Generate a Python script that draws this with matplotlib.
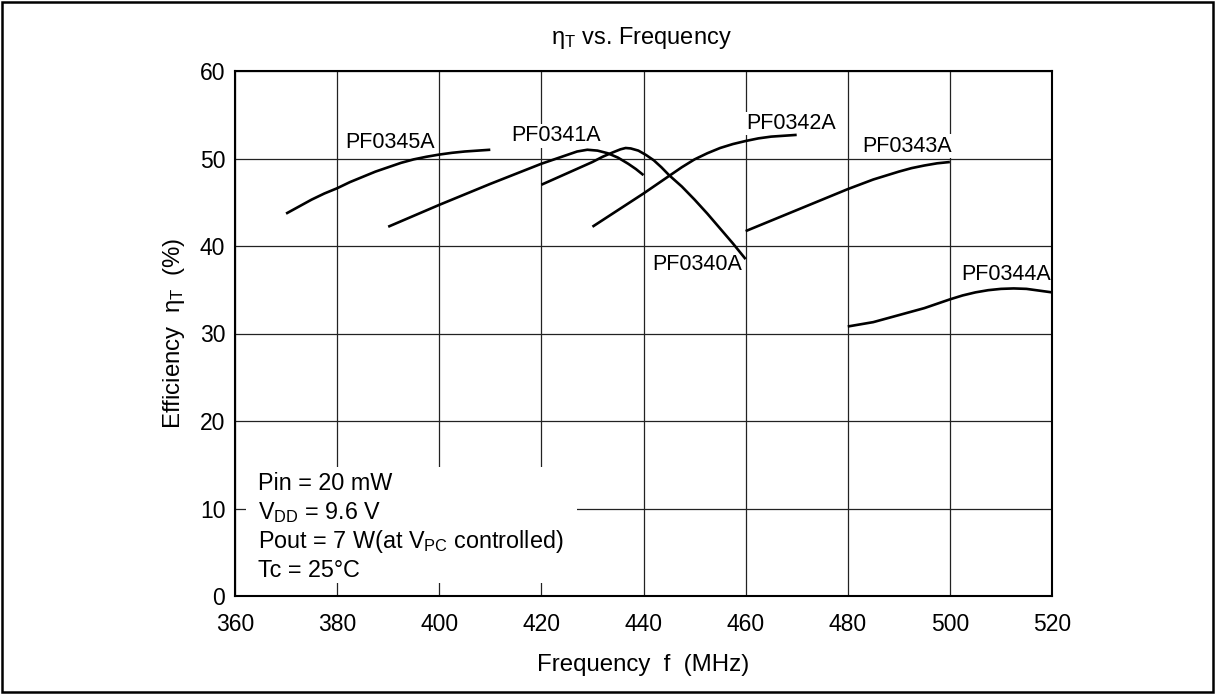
import matplotlib
matplotlib.use("Agg")
import matplotlib.pyplot as plt
from matplotlib.patches import Rectangle

plt.rcParams['font.family'] = ['Liberation Sans', 'DejaVu Sans']
plt.rcParams['mathtext.fontset'] = 'custom'
plt.rcParams['mathtext.rm'] = 'Liberation Sans'
plt.rcParams['mathtext.it'] = 'Liberation Sans'
plt.rcParams['mathtext.bf'] = 'Liberation Sans:bold'

# ---- data ----
pf0345a_f = [370, 372.5, 375, 377.5, 380, 382.5, 385, 387.5, 390, 392.5, 395,
             397.5, 400, 402.5, 405, 407.5, 410]
pf0345a_eff = [43.7, 44.5, 45.3, 46.0, 46.6, 47.3, 47.9, 48.5, 49.0, 49.5, 49.9,
               50.2, 50.45, 50.65, 50.8, 50.9, 51.0]

pf0341a_f = [390, 400, 410, 420, 422.5, 425, 427, 429, 431, 433, 435, 437, 438.5, 440]
pf0341a_eff = [42.2, 44.7, 47.1, 49.4, 49.9, 50.4, 50.8, 51.0, 50.9, 50.6, 50.1,
               49.4, 48.8, 48.1]

pf0340a_f = [420, 425, 430, 432, 434, 435.5, 436.5, 437.5, 439, 440.5, 442, 443.5,
             445, 447.5, 450, 452.5, 455, 457.5, 460]
pf0340a_eff = [47.0, 48.3, 49.6, 50.2, 50.7, 51.05, 51.2, 51.15, 50.9, 50.4, 49.8,
               49.0, 48.1, 46.8, 45.3, 43.7, 42.0, 40.3, 38.5]

pf0342a_f = [430, 435, 440, 445, 447.5, 450, 452.5, 455, 457.5, 460, 462.5, 465,
             467.5, 470]
pf0342a_eff = [42.2, 44.1, 46.0, 48.0, 49.0, 49.9, 50.6, 51.2, 51.65, 52.0, 52.3,
               52.5, 52.6, 52.7]

pf0343a_f = [460, 465, 470, 475, 480, 485, 490, 492.5, 495, 497.5, 500]
pf0343a_eff = [41.7, 42.9, 44.1, 45.3, 46.5, 47.6, 48.5, 48.9, 49.2, 49.45, 49.6]

pf0344a_f = [480, 482.5, 485, 487.5, 490, 492.5, 495, 497.5, 500, 502.5, 505,
             507.5, 510, 512.5, 515, 517.5, 520]
pf0344a_eff = [30.8, 31.05, 31.3, 31.7, 32.1, 32.5, 32.9, 33.4, 33.9, 34.35, 34.7,
               34.95, 35.1, 35.15, 35.1, 34.9, 34.7]

series = [
    ("PF0345A", pf0345a_f, pf0345a_eff, (381.5, 51.8)),
    ("PF0341A", pf0341a_f, pf0341a_eff, (414.1, 52.6)),
    ("PF0340A", pf0340a_f, pf0340a_eff, (441.7, 37.9)),
    ("PF0342A", pf0342a_f, pf0342a_eff, (460.1, 54.0)),
    ("PF0343A", pf0343a_f, pf0343a_eff, (482.8, 51.4)),
    ("PF0344A", pf0344a_f, pf0344a_eff, (502.2, 36.7)),
]

x_ticks = [360, 380, 400, 420, 440, 460, 480, 500, 520]
y_ticks = [0, 10, 20, 30, 40, 50, 60]

conditions = [
    "Pin = 20 mW",
    r"V$_{\mathrm{DD}}$ = 9.6 V",
    r"Pout = 7 W(at V$_{\mathrm{PC}}$ controlled)",
    "Tc = 25°C",
]

fig = plt.figure(figsize=(12.15, 6.94), dpi=100)
ax = fig.add_axes([235 / 1215, 1 - 596 / 694, (1052 - 235) / 1215, (596 - 71) / 694])

for name, f, e, (lx, ly) in series:
    ax.plot(f, e, color='black', lw=1.9, zorder=4, solid_capstyle='butt',
            solid_joinstyle='round')
    ax.text(lx, ly, name, fontsize=15.5, ha='left', va='center', zorder=3,
            bbox=dict(facecolor='white', edgecolor='none', pad=1.0))

ax.set_xlim(360, 520)
ax.set_ylim(0, 60)
ax.set_xticks(x_ticks)
ax.set_yticks(y_ticks)
ax.tick_params(axis='both', length=0, labelsize=16.5)
ax.tick_params(axis='x', pad=12)
ax.tick_params(axis='y', pad=7)
ax.grid(True, color='#222222', lw=0.9, zorder=1)
ax.set_axisbelow(True)
for sp in ax.spines.values():
    sp.set_linewidth(1.5)
    sp.set_zorder(5)

# white box behind the conditions
ax.add_patch(Rectangle((0.014, 0.025), 0.404, 0.221, transform=ax.transAxes,
                       facecolor='white', edgecolor='none', zorder=2))
for i, line in enumerate(conditions):
    ax.text(0.0285, 0.215 - i * 0.0555, line, transform=ax.transAxes,
            fontsize=16.8, ha='left', va='center', zorder=3)

ax.set_xlabel("Frequency  f  (MHz)", fontsize=17.3, labelpad=13)
ax.set_ylabel(r"Efficiency  $\eta_{\mathrm{T}}$  (%)", fontsize=17.3, labelpad=9)
fig.text(0.528, 1 - 38 / 694, r"$\eta_{\mathrm{T}}$ vs. Frequency", fontsize=17,
         ha='center', va='center')

# outer frame
fig.add_artist(Rectangle((0.002, 0.003), 0.996, 0.994, transform=fig.transFigure,
                         facecolor='none', edgecolor='black', lw=1.8))

fig.savefig("out.png", dpi=100)
